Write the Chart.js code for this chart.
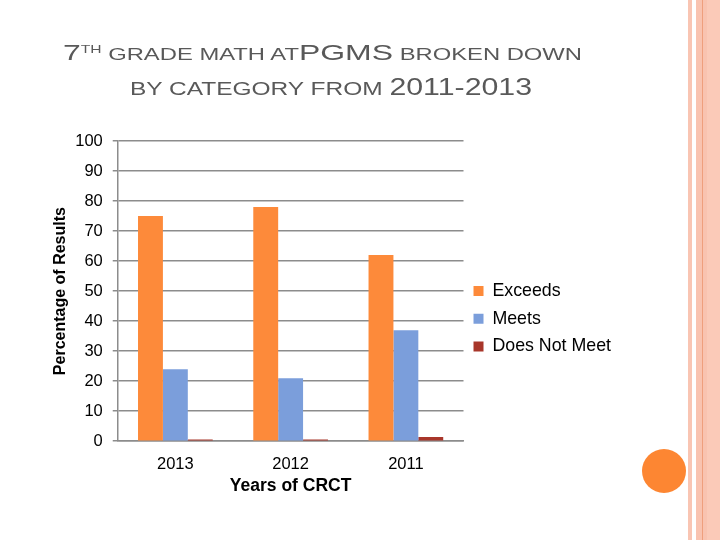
<!DOCTYPE html>
<html>
<head>
<meta charset="utf-8">
<script src="https://cdn.jsdelivr.net/npm/chart.js@4.4.0/dist/chart.umd.min.js"></script>
<style>
  html, body { margin: 0; padding: 0; background: #fff; }
  #slide { position: relative; width: 720px; height: 540px; overflow: hidden; }
  #chart { position: absolute; left: 0; top: 0; }
  .deco { position: absolute; top: 0; height: 540px; }
  #circle { position: absolute; left: 641.5px; top: 449px; width: 44px; height: 44px; border-radius: 50%; background: #fd8632; }
  #title { position: absolute; left: 0; top: 0; }
  #title text { font-family: 'Liberation Sans', Arial, sans-serif; fill: #595959; white-space: pre; }
</style>
</head>
<body>
<div id="slide">
  <!-- bordure de droite -->
  <div class="deco" style="left:688px;width:4px;background:#f9c5b3"></div>
  <div class="deco" style="left:696px;width:11px;background:#f9c3b0"></div>
  <div class="deco" style="left:707px;width:13px;background:#fbcab8"></div>
  <div class="deco" style="left:702px;width:1px;background:#ef9f7d"></div>
  <div id="circle"></div>

  <canvas id="chart" width="720" height="540"></canvas>

  <!-- titre -->
  <svg id="title" width="720" height="120">
    <text x="63" y="60" textLength="519" lengthAdjust="spacingAndGlyphs"><tspan font-size="21.5">7</tspan><tspan font-size="10.5" dy="-7">TH</tspan><tspan font-size="16" dy="7"> GRADE MATH AT</tspan><tspan font-size="21.5">PGMS</tspan><tspan font-size="16"> BROKEN DOWN</tspan></text>
    <text x="130" y="95" textLength="402" lengthAdjust="spacingAndGlyphs"><tspan font-size="19">BY CATEGORY FROM </tspan><tspan font-size="23.5">2011-2013</tspan></text>
  </svg>
</div>

<script>
// Données
const years = ['2013', '2012', '2011'];
const exceeds = [75, 78, 62];
const meets = [24, 21, 37];
const doesNotMeet = [0.6, 0.6, 1.4];
const yMin = 0;
const yMax = 100;
const yStep = 10;

const gridColor = '#8c8c8c';
const fontFamily = "'Liberation Sans', Arial, sans-serif";

const ctx = document.getElementById('chart').getContext('2d');

new Chart(ctx, {
  type: 'bar',
  data: {
    labels: years,
    datasets: [
      { label: 'Exceeds', data: exceeds, backgroundColor: '#fd8a3a' },
      { label: 'Meets', data: meets, backgroundColor: '#7b9edb' },
      { label: 'Does Not Meet', data: doesNotMeet, backgroundColor: '#a8362a' }
    ]
  },
  options: {
    responsive: false,
    animation: false,
    layout: {
      padding: { left: 38, top: 141, right: 99, bottom: 43.5 }
    },
    datasets: {
      bar: {
        categoryPercentage: 0.648,
        barPercentage: 1.0
      }
    },
    plugins: {
      tooltip: { enabled: false },
      legend: {
        display: true,
        position: 'right',
        maxWidth: 220,
        labels: {
          color: '#000',
          boxWidth: 10,
          boxHeight: 10,
          padding: 10,
          font: { family: fontFamily, size: 17.8 }
        }
      }
    },
    scales: {
      x: {
        grid: { display: false, drawTicks: false },
        border: { display: true, color: gridColor, width: 1.5 },
        ticks: {
          color: '#000',
          padding: 13,
          font: { family: fontFamily, size: 16.5 }
        },
        title: {
          display: true,
          text: 'Years of CRCT',
          color: '#000',
          padding: { top: -11.5, bottom: 0 },
          font: { family: fontFamily, size: 17.5, weight: 'bold' }
        }
      },
      y: {
        min: yMin,
        max: yMax,
        grid: { color: gridColor, lineWidth: 1.5, tickLength: 5 },
        border: { display: true, color: gridColor, width: 1.5 },
        ticks: {
          stepSize: yStep,
          color: '#000',
          padding: 10,
          font: { family: fontFamily, size: 16.5 }
        },
        title: {
          display: true,
          text: 'Percentage of Results',
          color: '#000',
          padding: { top: 13, bottom: -5 },
          font: { family: fontFamily, size: 16, weight: 'bold' }
        }
      }
    }
  }
});
</script>
</body>
</html>
